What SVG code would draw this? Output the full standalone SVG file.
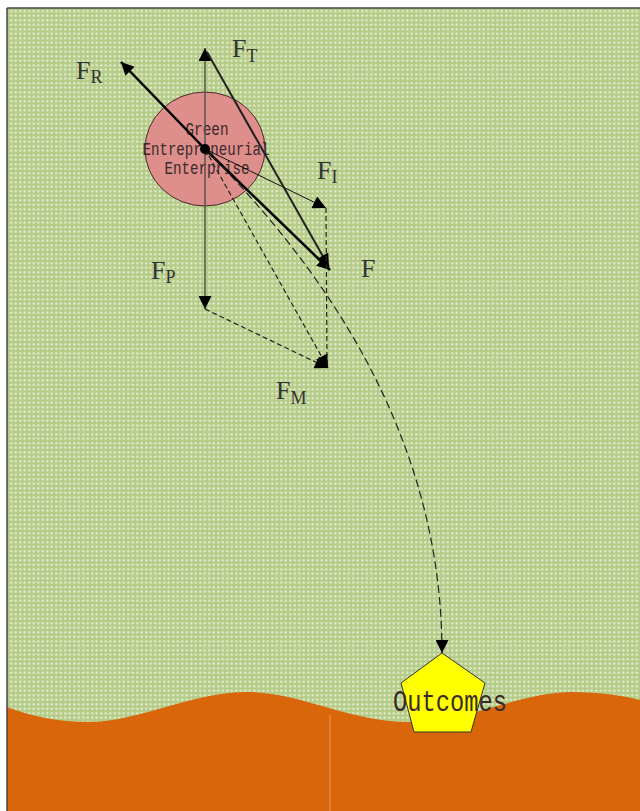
<svg xmlns="http://www.w3.org/2000/svg" width="640" height="811" viewBox="0 0 640 811">
  <defs>
    <pattern id="dots" width="4.5" height="4.5" patternUnits="userSpaceOnUse">
      <rect width="4.5" height="4.5" fill="#b5cc88"/>
      <circle cx="2.25" cy="2.25" r="1.2" fill="#e6eed5"/>
    </pattern>
    <marker id="ah" viewBox="0 0 10 10" refX="10" refY="5" markerWidth="16" markerHeight="13" markerUnits="userSpaceOnUse" orient="auto">
      <path d="M0,0 L10,5 L0,10 Z" fill="#000"/>
    </marker>
    <style>
      .lbl { font-family: "Liberation Serif", "DejaVu Serif", serif; font-size: 26px; fill: #333; }
      .sub { font-size: 18px; }
      .mono { font-family: "Liberation Mono", "DejaVu Sans Mono", monospace; fill: #3a2a2a; }
      .thick { stroke: #000; stroke-width: 2.5; fill: none; }
      .dash { stroke: #222; stroke-width: 1.2; stroke-dasharray: 5,3; fill: none; }
      .dashl { stroke: #222; stroke-width: 1.2; stroke-dasharray: 8,4; fill: none; }
    </style>
  </defs>

  <rect x="0" y="0" width="640" height="811" fill="#ffffff"/>
  <rect id="background" x="7" y="8" width="633" height="803" fill="url(#dots)"/>
  <path id="ground" d="M7,707 C30,716 60,722 88,722 C140,722 190,692 248,692 C300,692 350,722 410,722 C470,722 520,692 572,692 C600,692 625,696 640,700 L640,811 L7,811 Z" fill="#d9660b"/>
  <line x1="330" y1="715" x2="330" y2="811" stroke="#e08a4a" stroke-width="1.5"/>
  <line x1="7" y1="8" x2="640" y2="8" stroke="#444" stroke-width="1.5"/>
  <line x1="7" y1="8" x2="7" y2="811" stroke="#444" stroke-width="1.5"/>

  <g id="enterprise">
    <ellipse cx="205" cy="149" rx="60" ry="57" fill="#de8e8b" stroke="#4a2a2a" stroke-width="1"/>
    <text class="mono" x="207" y="135" font-size="18" text-anchor="middle" textLength="43" lengthAdjust="spacingAndGlyphs">Green</text>
    <text class="mono" x="206" y="155" font-size="18" text-anchor="middle" textLength="127" lengthAdjust="spacingAndGlyphs">Entrepreneurial</text>
    <text class="mono" x="207" y="174" font-size="18" text-anchor="middle" textLength="85" lengthAdjust="spacingAndGlyphs">Enterprise</text>
  </g>

  <g id="connectors">
    <line x1="205" y1="149" x2="205" y2="48" stroke="#555" stroke-width="1.5" marker-end="url(#ah)"/>
    <line x1="205" y1="149" x2="205" y2="309" stroke="#555" stroke-width="1.5" marker-end="url(#ah)"/>
    <line class="thick" x1="205" y1="149" x2="121" y2="62" marker-end="url(#ah)"/>
    <line class="thick" x1="205" y1="149" x2="330" y2="270" marker-end="url(#ah)"/>
    <line x1="207" y1="52" x2="329" y2="267" stroke="#222" stroke-width="2" marker-end="url(#ah)"/>
    <line x1="205" y1="149" x2="326" y2="208" stroke="#111" stroke-width="1" marker-end="url(#ah)"/>
    <line class="dash" x1="326" y1="208" x2="327" y2="366"/>
    <line class="dash" x1="205" y1="309" x2="328" y2="368" marker-end="url(#ah)"/>
    <line class="dash" x1="205" y1="149" x2="328" y2="368" marker-end="url(#ah)"/>
    <path class="dashl" d="M205,149 Q442,386 442,653" marker-end="url(#ah)"/>
    <circle cx="205" cy="149" r="5" fill="#000"/>
  </g>

  <g id="labels">
    <text class="lbl" x="76" y="79">F<tspan class="sub" dy="4">R</tspan></text>
    <text class="lbl" x="232" y="57">F<tspan class="sub" dy="5">T</tspan></text>
    <text class="lbl" x="317" y="179">F<tspan class="sub" dy="4">I</tspan></text>
    <text class="lbl" x="361" y="277">F</text>
    <text class="lbl" x="151" y="279">F<tspan class="sub" dy="4">P</tspan></text>
    <text class="lbl" x="276" y="399">F<tspan class="sub" dy="5">M</tspan></text>
  </g>

  <g id="outcomes">
    <polygon points="442,653 485,683 471,732 414,732 401,683" fill="#ffff00" stroke="#333" stroke-width="1"/>
    <text class="mono" x="393" y="711" font-size="30" textLength="114" lengthAdjust="spacingAndGlyphs" fill="#333">Outcomes</text>
  </g>
</svg>
